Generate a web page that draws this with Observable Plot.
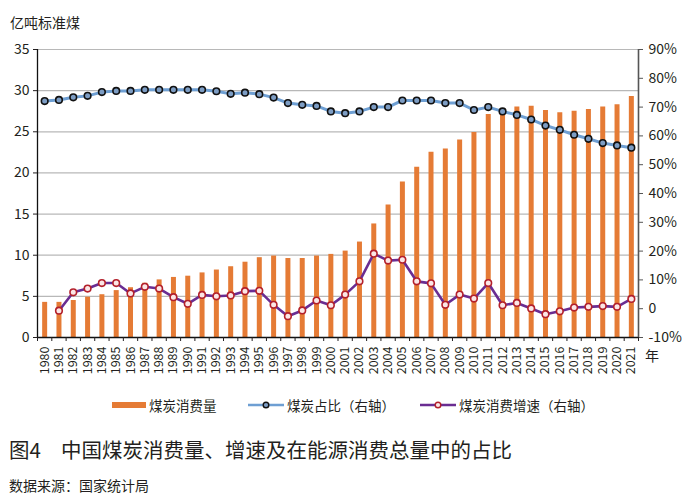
<!DOCTYPE html>
<html>
<head>
<meta charset="utf-8">
<script src="https://cdn.jsdelivr.net/npm/d3@7"></script>
<script src="https://cdn.jsdelivr.net/npm/@observablehq/plot@0.6"></script>
<style>
  html, body { margin: 0; padding: 0; background: #fff; }
  body { font-family: "Noto Sans CJK SC", "Noto Sans", sans-serif; color: #231f20; }
  #wrap { position: relative; width: 700px; height: 499px; overflow: hidden; }
  #chart { position: absolute; left: 0; top: 0; }
  .abs { position: absolute; white-space: nowrap; }
  #ytitle { left: 10px; top: 12px; font-size: 14px; line-height: 20px; }
  #xunit { left: 645px; top: 347px; font-size: 14px; line-height: 16px; }
  #legend { left: 0; top: 395px; width: 700px; height: 20px; font-size: 13.5px; line-height: 20px; }
  #legend .item { position: absolute; top: 0; display: flex; align-items: center; }
  #legend svg { display: block; margin-right: 3px; }
  #title { left: 9px; top: 435px; font-size: 20.5px; line-height: 28px; }
  #title .gap { display: inline-block; width: 20px; }
  #caption { left: 9px; top: 474px; font-size: 14px; line-height: 22px; }
</style>
</head>
<body>
<div id="wrap">
  <div id="chart"></div>
  <div id="ytitle" class="abs">亿吨标准煤</div>
  <div id="xunit" class="abs">年</div>
  <div id="legend" class="abs"></div>
  <div id="title" class="abs">图4<span class="gap"></span>中国煤炭消费量、增速及在能源消费总量中的占比</div>
  <div id="caption" class="abs">数据来源：国家统计局</div>
</div>
<script>
// ---- data ----
const years = [1980,1981,1982,1983,1984,1985,1986,1987,1988,1989,
               1990,1991,1992,1993,1994,1995,1996,1997,1998,1999,
               2000,2001,2002,2003,2004,2005,2006,2007,2008,2009,
               2010,2011,2012,2013,2014,2015,2016,2017,2018,2019,
               2020,2021];
// 煤炭消费量 (亿吨标准煤)
const coalConsumption = [4.27,4.27,4.5,4.9,5.2,5.7,6.05,6.6,7.0,7.3,
                         7.45,7.85,8.2,8.6,9.15,9.7,9.9,9.6,9.6,9.9,
                         10.1,10.5,11.6,13.8,16.1,18.9,20.7,22.5,22.9,24.0,
                         24.9,27.1,27.5,28.0,28.1,27.6,27.3,27.5,27.7,28.0,
                         28.3,29.3];
// 煤炭占比 (%) 右轴
const coalShare = [72.1,72.5,73.4,73.9,75.2,75.6,75.6,76.0,76.0,76.0,
                   76.0,76.0,75.5,74.6,75.0,74.5,73.3,71.4,70.8,70.4,
                   68.5,67.9,68.5,70.0,70.0,72.3,72.3,72.3,71.4,71.4,
                   69.0,70.0,68.5,67.3,65.7,63.6,62.1,60.4,59.0,57.5,
                   56.7,55.9];
// 煤炭消费增速 (%) 右轴
const coalGrowth = [null,-0.7,5.7,7.0,8.9,8.9,5.3,7.6,7.0,4.0,
                    1.7,4.8,4.3,4.6,6.1,6.2,1.35,-2.6,-0.6,2.85,
                    1.2,4.9,9.5,19.1,16.7,17.0,9.5,8.8,1.35,4.9,
                    3.5,8.9,1.2,2.0,0.1,-1.9,-0.9,0.4,0.65,0.9,
                    0.65,3.4];
const leftTicks = [0,5,10,15,20,25,30,35];
const rightTicks = [-10,0,10,20,30,40,50,60,70,80,90];

const legendLabels = ["煤炭消费量", "煤炭占比（右轴）", "煤炭消费增速（右轴）"];

// ---- styles ----
const barColor = "#E57B35";
const shareColor = "#6E9FD3";
const growthColor = "#6A2D92";

// ---- derived table ----
const leftMax = leftTicks[leftTicks.length - 1];
const rightMin = rightTicks[0], rightMax = rightTicks[rightTicks.length - 1];
const toLeft = p => (p - rightMin) / (rightMax - rightMin) * leftMax;
const fromLeft = v => v / leftMax * (rightMax - rightMin) + rightMin;

const table = years.map((year, i) => ({
  year, coal: coalConsumption[i], share: coalShare[i], growth: coalGrowth[i]
}));
const growthTable = table.filter(d => d.growth != null);
const x0 = years[0] - 0.5, x1 = years[years.length - 1] + 0.5;
const bounds = years.map(y => y - 0.5).concat([x1]);

const chart = Plot.plot({
  width: 700,
  height: 390,
  marginTop: 49,
  marginBottom: 53,
  marginLeft: 37,
  marginRight: 62,
  x: { type: "linear", domain: [x0, x1], label: null },
  y: { type: "linear", domain: [0, leftMax], label: null },
  style: { fontFamily: '"Noto Sans CJK SC", "Noto Sans", sans-serif', fontSize: "14px", color: "#231f20", background: "transparent", overflow: "visible" },
  marks: [
    Plot.ruleY(leftTicks.filter(t => t > 0), { stroke: "#b8b8b8", strokeWidth: 1.2 }),
    Plot.ruleX(table, { x: "year", y1: 0, y2: "coal", stroke: barColor, strokeWidth: 5 }),
    Plot.ruleY([0], { stroke: "#111", strokeWidth: 1.3 }),
    Plot.ruleX([x0], { stroke: "#111", strokeWidth: 1.3 }),
    Plot.ruleX([x1], { stroke: "#555", strokeWidth: 1.6 }),
    Plot.axisY(leftTicks, { anchor: "left", label: null, tickSize: 4, tickPadding: 4, fontSize: 14, tickFormat: d => String(d) }),
    Plot.axisY(rightTicks.map(toLeft), { anchor: "right", label: null, tickSize: 4, tickPadding: 6, fontSize: 14, stroke: "#555",
      tickFormat: v => { const p = Math.round(fromLeft(v)); return p === 0 ? "0" : p + "%"; } }),
    Plot.axisX(bounds, { anchor: "bottom", label: null, tickSize: 4, tickFormat: () => "" }),
    Plot.axisX(years, { anchor: "bottom", label: null, tickSize: 0, tickPadding: 9, tickRotate: -90, fontSize: 12.5, tickFormat: d => String(d) }),
    Plot.line(table, { x: "year", y: d => toLeft(d.share), stroke: shareColor, strokeWidth: 3 }),
    Plot.dot(table, { x: "year", y: d => toLeft(d.share), r: 3.3, stroke: "#111", strokeWidth: 1.6, fill: "#7d9dc4" }),
    Plot.line(growthTable, { x: "year", y: d => toLeft(d.growth), stroke: growthColor, strokeWidth: 2.6 }),
    Plot.dot(growthTable, { x: "year", y: d => toLeft(d.growth), r: 3.3, stroke: "#b3202b", strokeWidth: 1.6, fill: "#fbe6e6" })
  ]
});
document.getElementById("chart").appendChild(chart);

// ---- legend ----
const legend = document.getElementById("legend");
const items = [
  { left: 112, label: legendLabels[0], svg: `<svg width="34" height="10"><rect x="0" y="2" width="34" height="6" fill="${barColor}"/></svg>` },
  { left: 248, label: legendLabels[1], svg: `<svg width="36" height="10"><line x1="0" y1="5" x2="36" y2="5" stroke="${shareColor}" stroke-width="2.5"/><circle cx="18" cy="5" r="2.8" fill="#7d9dc4" stroke="#111" stroke-width="1.4"/></svg>` },
  { left: 420, label: legendLabels[2], svg: `<svg width="36" height="10"><line x1="0" y1="5" x2="36" y2="5" stroke="${growthColor}" stroke-width="2.5"/><circle cx="18" cy="5" r="2.8" fill="#fbe6e6" stroke="#b3202b" stroke-width="1.4"/></svg>` }
];
for (const it of items) {
  const div = document.createElement("div");
  div.className = "item";
  div.style.left = it.left + "px";
  div.innerHTML = it.svg + `<span>${it.label}</span>`;
  legend.appendChild(div);
}
</script>
</body>
</html>
